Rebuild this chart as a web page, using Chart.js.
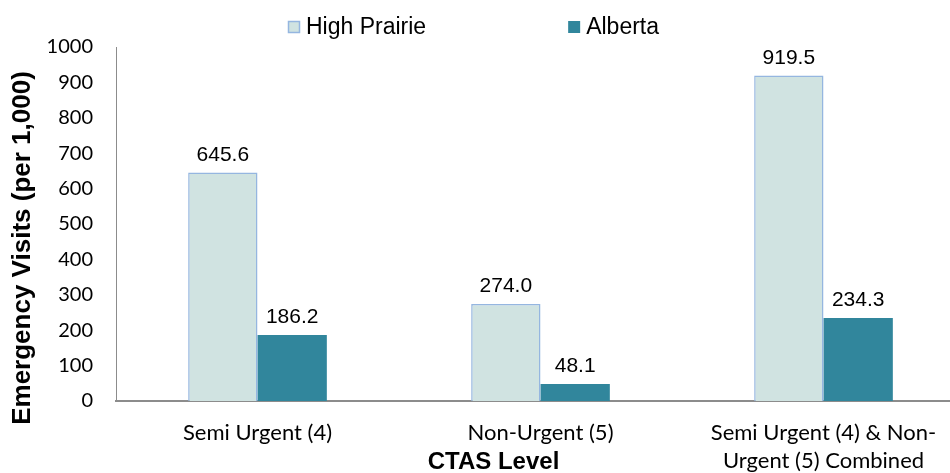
<!DOCTYPE html>
<html>
<head>
<meta charset="utf-8">
<script src="https://cdn.jsdelivr.net/npm/chart.js@4"></script>
<style>
html,body{margin:0;padding:0;background:#fff;overflow:hidden;width:950px;height:473px;}
canvas{display:block;}
</style>
</head>
<body>
<canvas id="c" width="967" height="473" style="width:967px;height:473px"></canvas>
<script>
const categories = ["Semi Urgent (4)", "Non-Urgent (5)", ["Semi Urgent (4) & Non-", "Urgent (5) Combined"]];
const seriesNames = ["High Prairie", "Alberta"];
const highPrairie = [645.6, 274.0, 919.5];
const alberta = [186.2, 48.1, 234.3];
const yTicks = [0, 100, 200, 300, 400, 500, 600, 700, 800, 900, 1000];
const yTitle = "Emergency Visits (per 1,000)";
const xTitle = "CTAS Level";

const labelPlugin = {
  id: 'extras',
  afterDatasetsDraw(chart) {
    const ctx = chart.ctx;
    ctx.save();
    ctx.fillStyle = '#000';
    ctx.font = '21px "Liberation Sans", Arial, sans-serif';
    ctx.textAlign = 'center';
    ctx.textBaseline = 'bottom';
    chart.data.datasets.forEach((ds, i) => {
      chart.getDatasetMeta(i).data.forEach((bar, j) => {
        ctx.fillText(ds.data[j].toFixed(1), bar.x, bar.y - 7);
      });
    });
    ctx.restore();
  },
  afterDraw(chart) {
    const ctx = chart.ctx;
    const area = chart.chartArea;
    ctx.save();
    ctx.fillStyle = '#000';
    ctx.font = 'bold 26px "Liberation Sans", Arial, sans-serif';
    ctx.textAlign = 'center';
    ctx.textBaseline = 'middle';
    ctx.translate(23, (area.top + area.bottom) / 2 + 24);
    ctx.rotate(-Math.PI / 2);
    ctx.fillText(yTitle, 0, 0);
    ctx.restore();
    ctx.save();
    ctx.fillStyle = '#000';
    ctx.font = 'bold 24px "Liberation Sans", Arial, sans-serif';
    ctx.textAlign = 'center';
    ctx.textBaseline = 'middle';
    ctx.fillText(xTitle, (area.left + area.right) / 2 - 47, 462);
    ctx.restore();
    ctx.save();
    ctx.font = '23px "Liberation Sans", Arial, sans-serif';
    ctx.textBaseline = 'middle';
    ctx.textAlign = 'left';
    let x = 288;
    const y = 27;
    chart.data.datasets.forEach((ds, i) => {
      ctx.fillStyle = ds.backgroundColor;
      ctx.fillRect(x, y - 6, 12, 12);
      if (ds.borderWidth) {
        ctx.strokeStyle = ds.borderColor;
        ctx.lineWidth = 1.5;
        ctx.strokeRect(x + 0.5, y - 5.5, 11, 11);
      }
      ctx.fillStyle = '#000';
      ctx.fillText(ds.label, x + 18, y + 1);
      x += 18 + ctx.measureText(ds.label).width + 142;
    });
    ctx.restore();
  }
};

new Chart(document.getElementById('c'), {
  type: 'bar',
  data: {
    labels: categories,
    datasets: [
      { label: seriesNames[0], data: highPrairie, backgroundColor: '#D0E3E1', borderColor: '#95B6E0', borderWidth: 1.5, borderSkipped: 'bottom' },
      { label: seriesNames[1], data: alberta, backgroundColor: '#31869C', borderWidth: 0 }
    ]
  },
  options: {
    responsive: false,
    animation: false,
    layout: { padding: { top: 47, right: 2, left: 0, bottom: 0 } },
    plugins: { legend: { display: false }, tooltip: { enabled: false } },
    datasets: { bar: { categoryPercentage: 0.49, barPercentage: 1.0 } },
    scales: {
      x: {
        grid: { display: false, drawTicks: false },
        border: { display: true, color: '#8C8C8C', width: 2 },
        ticks: { color: '#000', padding: 18, maxRotation: 0, autoSkip: false,
                 font: { family: 'Lato, "Open Sans", sans-serif', size: 22, lineHeight: 1.27 } },
        afterFit(scale) { scale.height = 72; }
      },
      y: {
        min: 0, max: 1000,
        afterBuildTicks(scale) { scale.ticks = yTicks.map(v => ({ value: v })); },
        grid: { display: false, drawTicks: false },
        border: { display: true, color: '#8C8C8C', width: 1 },
        ticks: { color: '#000', padding: 23, callback: (v) => String(v),
                 font: { family: 'Lato, "Open Sans", sans-serif', size: 20 } },
        afterFit(scale) { scale.width = 116; }
      }
    }
  },
  plugins: [labelPlugin]
});
</script>
</body>
</html>
